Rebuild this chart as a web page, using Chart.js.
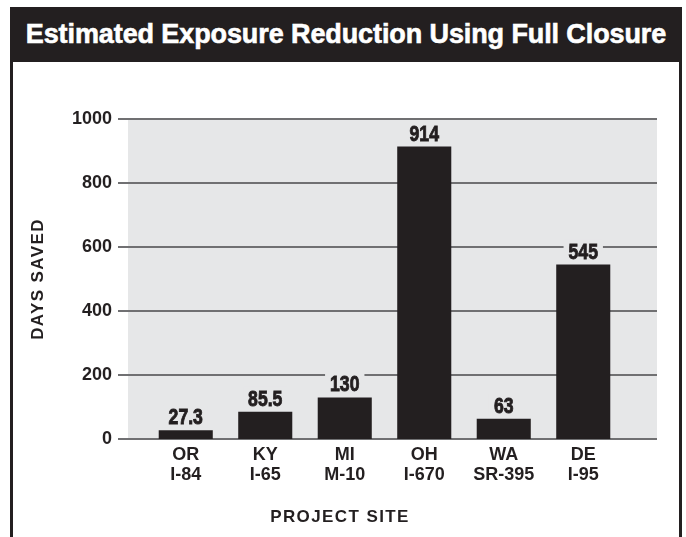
<!DOCTYPE html>
<html lang="en">
	<head>
		<meta charset="utf-8">
		<title>Estimated Exposure Reduction Using Full Closure</title>
		<script src="https://cdn.jsdelivr.net/npm/chart.js"></script>
		<style>
			html, body { margin: 0; padding: 0; background: #fff; }
			body { width: 686px; height: 537px; position: relative; overflow: hidden; }
			#frame {
				position: absolute; left: 10px; top: 7px; width: 666px; height: 540px;
				border-left: 3px solid #231f20; border-right: 3px solid #231f20;
			}
			#title {
				position: absolute; left: 10px; top: 7px; width: 672px; height: 55px;
				background: #231f20; color: #fff;
				font: bold 27px "Liberation Sans", Arial, sans-serif;
				-webkit-text-stroke: 0.6px #fff;
				line-height: 55px; text-align: center; letter-spacing: -0.1px;
			}
			#wrap { position: absolute; left: 0; top: 0; width: 686px; height: 537px; }
		</style>
	</head>
	<body>
		<div id="frame"></div>
		<div id="title">Estimated Exposure Reduction Using Full Closure</div>
		<div id="wrap"><canvas id="chart"></canvas></div>
		<script>
			const sites = [["OR", "I-84"], ["KY", "I-65"], ["MI", "M-10"], ["OH", "I-670"], ["WA", "SR-395"], ["DE", "I-95"]]
			const daysSaved = [27.3, 85.5, 130, 914, 63, 545]
			const valueLabels = ["27.3", "85.5", "130", "914", "63", "545"]
			const yTicks = [0, 200, 400, 600, 800, 1000]

			const dark = "#231f20"
			const plotGray = "#e6e7e8"
			const gridGray = "#707072"

			// gray plot panel and gridlines, wider than the bar band
			const panel = {
				id: "panel",
				beforeDatasetsDraw(chart) {
					const {ctx, chartArea: a, scales: {y}} = chart
					const left = a.left - 18, right = a.right + 34
					ctx.save()
					ctx.fillStyle = plotGray
					ctx.fillRect(left, y.getPixelForValue(1000), right - left, y.getPixelForValue(0) - y.getPixelForValue(1000))
					ctx.strokeStyle = gridGray
					ctx.lineWidth = 2
					yTicks.forEach(v => {
						const py = Math.round(y.getPixelForValue(v))
						ctx.beginPath()
						ctx.moveTo(left - 10, py)
						ctx.lineTo(right, py)
						ctx.stroke()
					})
					ctx.restore()
				},
				afterDatasetsDraw(chart) {
					const {ctx, chartArea: a} = chart
					ctx.save()
					ctx.font = "bold 22px 'Liberation Sans', Arial, sans-serif"
					ctx.textAlign = "center"
					ctx.textBaseline = "alphabetic"
					chart.getDatasetMeta(0).data.forEach((bar, i) => {
						const txt = valueLabels[i]
						const w = ctx.measureText(txt).width * 0.8 + 10
						const base = bar.y - 6
						ctx.fillStyle = plotGray
						ctx.fillRect(bar.x - w / 2, base - 19, w, 22)
						ctx.fillStyle = dark
						ctx.strokeStyle = dark
						ctx.lineWidth = 0.9
						ctx.save()
						ctx.translate(bar.x, base)
						ctx.scale(0.8, 1)
						ctx.fillText(txt, 0, 0)
						ctx.strokeText(txt, 0, 0)
						ctx.restore()
					})
					// axis titles
					ctx.font = "bold 17px 'Liberation Sans', Arial, sans-serif"
					ctx.letterSpacing = "1.4px"
					ctx.textBaseline = "middle"
					ctx.fillText("PROJECT SITE", 340, 517)
					ctx.translate(38, (a.top + a.bottom) / 2)
					ctx.rotate(-Math.PI / 2)
					ctx.fillText("DAYS SAVED", 0, 0)
					ctx.restore()
				}
			}

			new Chart(document.getElementById("chart").getContext("2d"), {
				type: "bar",
				data: {
					labels: sites,
					datasets: [{
						data: daysSaved,
						backgroundColor: dark,
						categoryPercentage: 1,
						barPercentage: 0.68
					}]
				},
				options: {
					responsive: true,
					maintainAspectRatio: false,
					animation: false,
					layout: {
						padding: {left: 20, right: 63, top: 119, bottom: 0}
					},
					plugins: {
						legend: {display: false},
						tooltip: {enabled: false}
					},
					scales: {
						x: {
							grid: {display: false, drawTicks: false},
							border: {display: false},
							ticks: {
								color: dark,
								padding: 6,
								font: {family: "'Liberation Sans', Arial, sans-serif", size: 18, weight: "bold", lineHeight: 1.1},
								maxRotation: 0
							},
							afterFit(scale) { scale.height = 98 }
						},
						y: {
							min: 0,
							max: 1000,
							afterBuildTicks(scale) { scale.ticks = yTicks.map(v => ({value: v})) },
							grid: {display: false, drawTicks: false},
							border: {display: false},
							ticks: {
								color: dark,
								padding: 34,
								font: {family: "'Liberation Sans', Arial, sans-serif", size: 18, weight: "bold"},
								callback: v => String(v)
							},
							afterFit(scale) { scale.width = 126 }
						}
					}
				},
				plugins: [panel]
			})
		</script>
	</body>
</html>
